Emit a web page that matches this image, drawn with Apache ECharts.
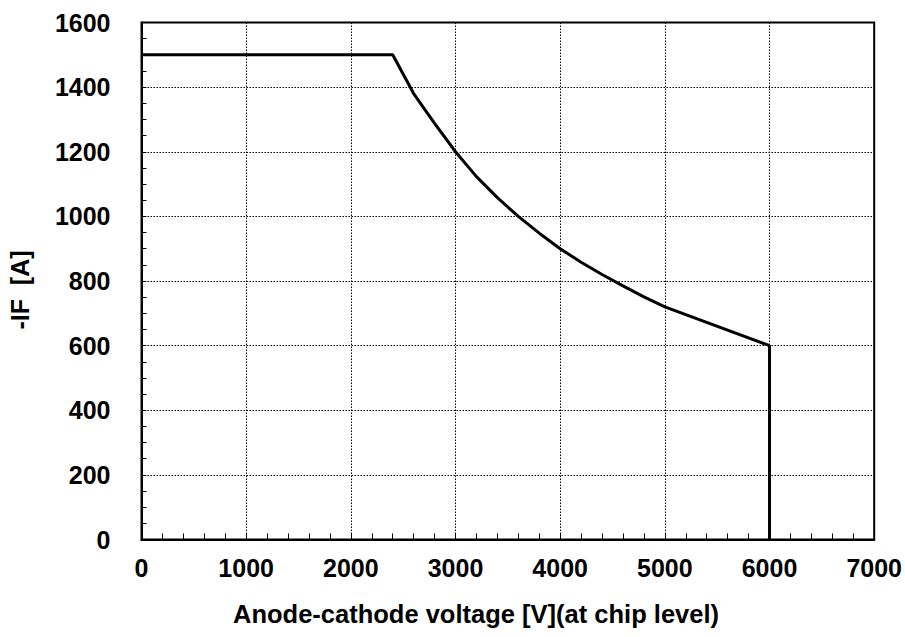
<!DOCTYPE html>
<html>
<head>
<meta charset="utf-8">
<script src="https://cdn.jsdelivr.net/npm/echarts@6/dist/echarts.min.js"></script>
<style>html,body{margin:0;padding:0;background:#fff;}#c{width:905px;height:637px;}</style>
</head>
<body>
<div id="c"></div>
<script>
var voltage = [0, 2400, 2600, 2800, 3000, 3200, 3400, 3600, 3800, 4000, 4200, 4400, 4600, 4800, 5000, 6000, 6000];
var current = [1500, 1500, 1380, 1288, 1200, 1123, 1058, 1000, 948, 900, 858, 820, 785, 751, 720, 600, 0];
var xTitle = 'Anode-cathode voltage [V](at chip level)';
var yTitle = '-IF  [A]';

var chart = echarts.init(document.getElementById('c'), null, {renderer: 'svg'});
var font = 'Liberation Sans, Arial, sans-serif';
var pts = voltage.map(function (v, i) { return [v, current[i]]; });
var plain = function (v) { return String(v); };

chart.setOption({
  animation: false,
  backgroundColor: '#fff',
  grid: {left: 141.5, right: 28.5, top: 22.5, bottom: 97.5, show: true, borderColor: '#000', borderWidth: 2, backgroundColor: 'transparent'},
  xAxis: {
    type: 'value', min: 0, max: 7000, interval: 1000,
    axisLine: {show: true, lineStyle: {color: '#000', width: 2}},
    axisTick: {show: true, inside: true, length: 6, lineStyle: {color: '#000', width: 1}},
    minorTick: {show: true, splitNumber: 5, length: 6, lineStyle: {color: '#000', width: 1}},
    splitLine: {show: true, lineStyle: {color: '#000', type: [1.5, 1.5], width: 1}},
    axisLabel: {color: '#000', fontFamily: font, fontWeight: 'bold', fontSize: 25, margin: 16, formatter: plain}
  },
  yAxis: {
    type: 'value', min: 0, max: 1600, interval: 200,
    axisLine: {show: true, lineStyle: {color: '#000', width: 2}},
    axisTick: {show: true, inside: true, length: 5, lineStyle: {color: '#000', width: 1}},
    minorTick: {show: true, splitNumber: 4, length: 5, lineStyle: {color: '#000', width: 1}},
    splitLine: {show: true, lineStyle: {color: '#000', type: [1.5, 1.5], width: 1}},
    axisLabel: {color: '#000', fontFamily: font, fontWeight: 'bold', fontSize: 25, margin: 31, formatter: plain}
  },
  graphic: [
    {type: 'text', x: 476, y: 614, style: {text: xTitle, fill: '#000', font: 'bold 25.5px ' + font, align: 'center', verticalAlign: 'middle'}},
    {type: 'text', x: 20, y: 290, rotation: Math.PI / 2, style: {text: yTitle, fill: '#000', font: 'bold 25px ' + font, align: 'center', verticalAlign: 'middle'}}
  ],
  series: [{
    type: 'line', data: pts, showSymbol: false, smooth: false,
    lineStyle: {color: '#000', width: 3}, z: 5
  }]
});
</script>
</body>
</html>
